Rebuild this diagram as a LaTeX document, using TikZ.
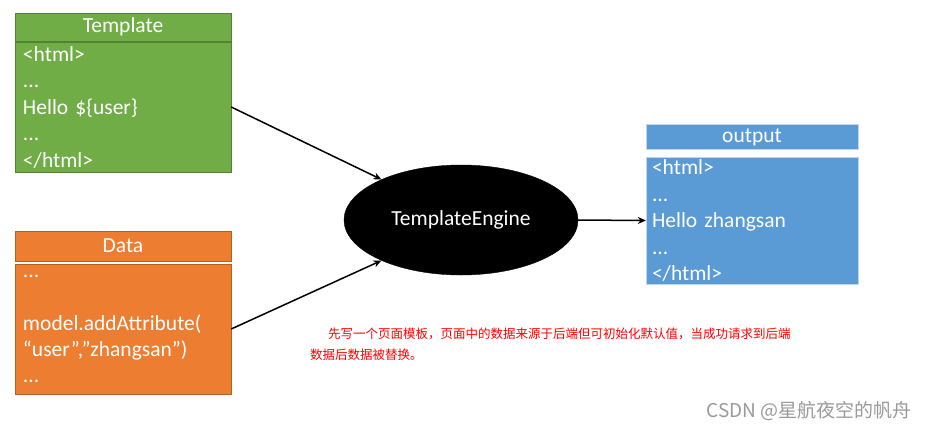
\documentclass[tikz,border=0pt]{standalone}
\usepackage{fontspec}
\setmainfont{Carlito}
\newfontfamily\cjk{Noto Sans CJK SC}
\usepackage{xcolor}
\usetikzlibrary{shapes.geometric, arrows.meta, positioning}

\definecolor{tplgreen}{HTML}{70AD47}
\definecolor{dataorange}{HTML}{ED7D31}
\definecolor{outblue}{HTML}{5B9BD5}

\begin{document}
\begin{tikzpicture}[
    x=1pt, y=-1pt,
    header/.style={rectangle, draw=#1!75!black, fill=#1, text=white, inner sep=0pt,
        minimum width=216pt, minimum height=28pt, font=\fontsize{21.5}{21.5}\selectfont},
    body/.style={rectangle, draw=#1!75!black, fill=#1, text=white, inner sep=0pt,
        minimum width=216pt, text width=200pt, align=left,
        font=\fontsize{21.5}{26.5}\selectfont},
    arrow/.style={-{Stealth[length=8pt,width=7pt]}, line width=1.5pt}
]
    \useasboundingbox (0,0) rectangle (929,429);

    \node[header=tplgreen] (thead) at (123,27) {Template};
    \node[body=tplgreen, minimum height=130pt] (tbody) at (123,107)
        {<html>\\...\\Hello \$\{user\}\\...\\</html>};

    \node[header=dataorange, minimum height=30pt] (dhead) at (123,246) {Data};
    \node[body=dataorange, minimum height=130pt] (dbody) at (123,329)
        {...\\[26pt]model.addAttribute(\\“user”,”zhangsan”)\\[-1pt]...};

    \node[ellipse, fill=black, draw=black, text=white, inner sep=0pt,
        minimum width=234pt, minimum height=110pt,
        font=\fontsize{21.5}{21.5}\selectfont] (engine) at (461,220) {TemplateEngine};

    \node[header=outblue, draw=white!60!outblue, minimum width=212pt, minimum height=25pt] (ohead) at (752,137) {output};
    \node[body=outblue, draw=white!60!outblue, minimum width=212pt, minimum height=127pt] (obody) at (752,220.5)
        {<html>\\...\\Hello zhangsan\\...\\</html>};

    \draw[arrow] (tbody.east) -- (engine.153);
    \draw[arrow] (dbody.east) -- (engine.207);
    \draw[arrow] (engine.east) -- (obody.west);

    % note under the engine
    \node[anchor=north west, inner sep=0pt, text=red, text width=590pt, align=left,
        font=\cjk\fontsize{12.5}{21}\selectfont] (note) at (310,328)
        {\hspace*{18pt}先写一个页面模板，页面中的数据来源于后端但可初始化默认值，当成功请求到后端\\数据后数据被替换。};

    \node[anchor=east, inner sep=0pt, text=black!40, font=\cjk\fontsize{19}{19}\selectfont] (mark) at (912,411)
        {CSDN @星航夜空的帆舟};
\end{tikzpicture}
\end{document}
